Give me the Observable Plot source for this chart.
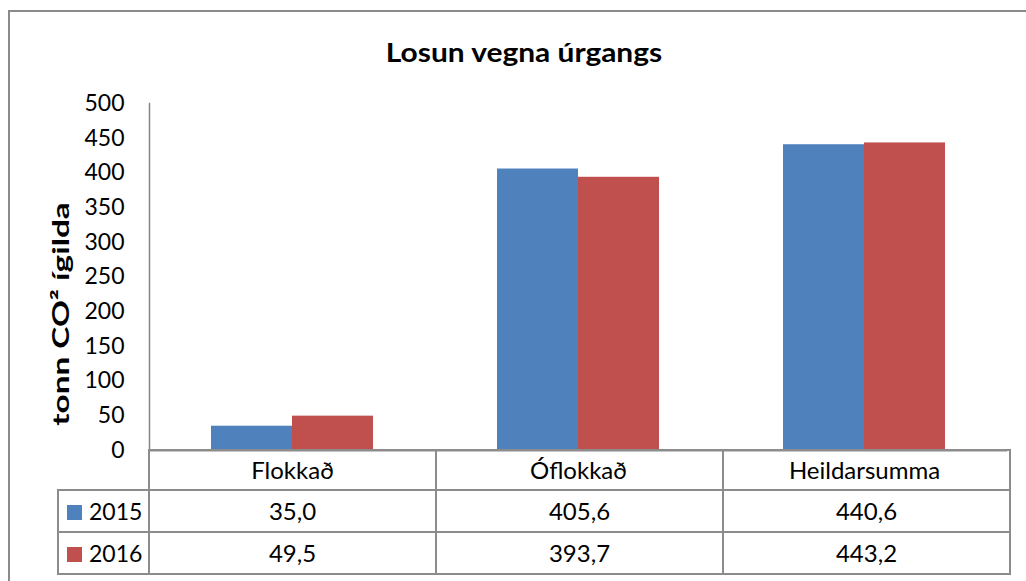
<!DOCTYPE html>
<html>
<head>
<meta charset="utf-8">
<script src="https://cdn.jsdelivr.net/npm/d3@7"></script>
<script src="https://cdn.jsdelivr.net/npm/@observablehq/plot@0.6"></script>
<style>
  html, body { margin: 0; padding: 0; background: #fff; }
  #wrap { position: relative; width: 1026px; height: 581px; overflow: hidden; font-family: Lato, "Open Sans", sans-serif; color: #000; }
  #outer { position: absolute; left: 8px; top: 10px; width: 1040px; height: 620px; border: 2px solid #8a8a8a; box-sizing: border-box; }
  #title { position: absolute; left: 524px; top: 39px; transform: translateX(-50%) scaleX(1.15); white-space: nowrap; font-weight: bold; font-size: 26px; line-height: 1; }
  #ylabel { position: absolute; left: 60px; top: 314px; transform: translate(-50%, -50%) rotate(-90deg) scaleX(1.45); white-space: nowrap; font-weight: bold; font-size: 23px; line-height: 1; }
  #chart { position: absolute; left: 0; top: 0; }
  #chart [aria-label^="fx-axis"] { font-size: 24px; }
  #chart [aria-label^="fx-axis"] text { font-size: 24px; }
  #tbl { position: absolute; left: 57px; top: 449px; border-collapse: collapse; table-layout: fixed; width: 952px; font-size: 24px; }
  #tbl td { border: 2px solid #8c8c8c; padding: 0; text-align: center; vertical-align: middle; line-height: 1; }
  #tbl tr.cat td { height: 38px; }
  #tbl tr.val td { height: 40px; }
  #tbl td.blank { border-top: none; border-left: none; }
  #tbl td.leg { text-align: left; padding-left: 8px; font-size: 23px; }
  .sw { display: inline-block; width: 15px; height: 15px; margin-right: 7px; vertical-align: 0px; }
</style>
</head>
<body>
<div id="wrap">
  <div id="outer"></div>
  <div id="title">Losun vegna úrgangs</div>
  <div id="chart"></div>
  <div id="ylabel">tonn CO² ígilda</div>
  <table id="tbl"></table>
</div>
<script>
const categories = ["Flokkað", "Óflokkað", "Heildarsumma"];
const years = ["2015", "2016"];
const values2015 = [35.0, 405.6, 440.6];
const values2016 = [49.5, 393.7, 443.2];
const yTicks = [0, 50, 100, 150, 200, 250, 300, 350, 400, 450, 500];
const colors = ["#4F81BD", "#C0504D"];

const series = [values2015, values2016];
const data = categories.flatMap((c, i) => years.map((y, j) => ({cat: c, year: y, value: series[j][i]})));

const chart = Plot.plot({
  width: 1026,
  height: 490,
  marginLeft: 148,
  marginRight: 18,
  marginTop: 103,
  marginBottom: 40,
  style: {fontFamily: "Lato, 'Open Sans', sans-serif", fontSize: "23px", color: "#000", background: "transparent", overflow: "visible"},
  fx: {domain: categories, padding: 0, label: null, axis: "bottom", tickSize: 0, tickPadding: 11},
  x: {domain: years, paddingInner: 0, paddingOuter: 0.75, axis: null},
  y: {domain: [0, 500], ticks: yTicks, tickSize: 0, tickPadding: 25, label: null},
  color: {domain: years, range: colors},
  marks: [
    Plot.barY(data, {fx: "cat", x: "year", y: "value", fill: "year"}),
    Plot.frame({anchor: "left", facet: "super", stroke: "#868686", strokeWidth: 1.5}),
    Plot.ruleY([0], {stroke: "#8c8c8c", strokeWidth: 2})
  ]
});
document.getElementById("chart").appendChild(chart);

const fmt = v => v.toFixed(1).replace(".", ",");
const tbl = d3.select("#tbl");
const cg = tbl.append("colgroup");
cg.append("col").style("width", "91px");
categories.forEach(() => cg.append("col").style("width", "287px"));
const r0 = tbl.append("tr").attr("class", "cat");
r0.append("td").attr("class", "blank");
categories.forEach(() => r0.append("td"));
years.forEach((y, j) => {
  const r = tbl.append("tr").attr("class", "val");
  const lg = r.append("td").attr("class", "leg");
  lg.append("span").attr("class", "sw").style("background", colors[j]);
  lg.append("span").text(y);
  series[j].forEach(v => r.append("td").text(fmt(v)));
});
</script>
</body>
</html>
